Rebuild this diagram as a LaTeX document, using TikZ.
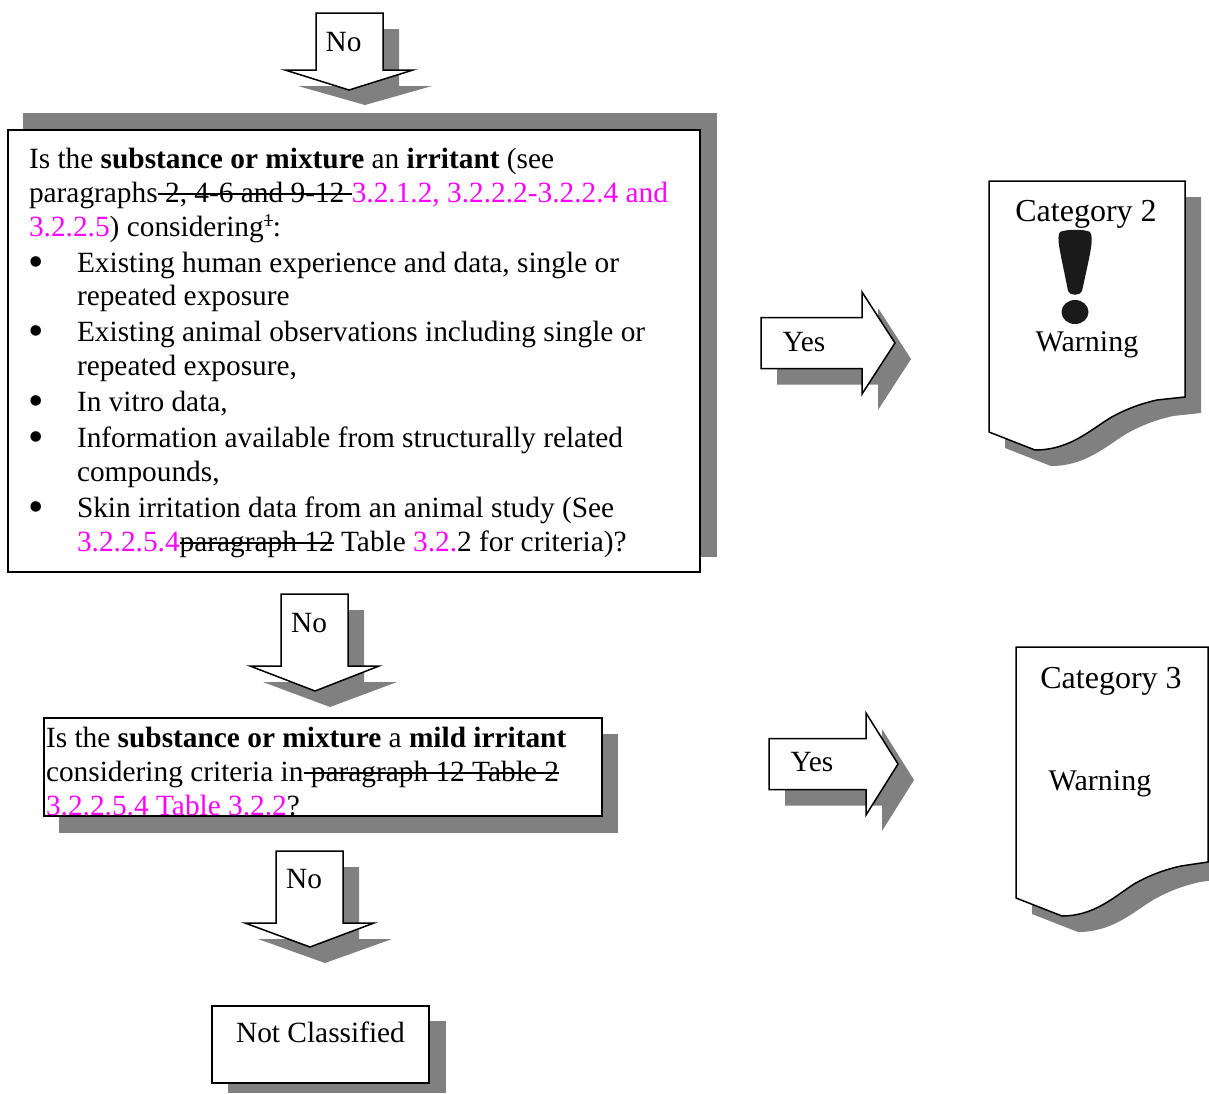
\documentclass[tikz,border=0pt]{standalone}
\usepackage{fontspec}
\setmainfont{Liberation Serif}
\definecolor{shadowgrey}{HTML}{808080}
\definecolor{ins}{HTML}{FF00FF}
\definecolor{excl}{HTML}{1A1A1A}
\newsavebox{\stkbox}
\newcommand{\stk}[1]{\sbox{\stkbox}{#1}\leavevmode\rlap{\rule[7.5pt]{\wd\stkbox}{1.5pt}}\usebox{\stkbox}}
\newcommand{\ins}[1]{\textcolor{ins}{#1}}
\newcommand{\bulletmark}{\fontsize{44}{44}\selectfont\smash{•}}
\tikzset{
  x=1pt,y=-1pt,
  txt/.style={inner sep=0pt,outer sep=0pt,anchor=base west,font=\fontsize{29.35}{34}\selectfont},
  ctr/.style={txt,anchor=base},
  cat/.style={ctr,font=\fontsize{32}{36}\selectfont},
  wrn/.style={ctr,font=\fontsize{30}{34}\selectfont},
  shp/.style={draw=black,line width=1.5pt,fill=white,line join=miter},
  shd/.style={fill=shadowgrey,draw=none}
}
\newcommand{\yesarr}[4]{%
  \begin{scope}[shift={(#1,#2)}]
    \fill[shadowgrey,shift={(16,16)}] (0,25.5) -- (#3,25.5) -- (#3,0) -- (#4,51) -- (#3,102) -- (#3,76.5) -- (0,76.5) -- cycle;
    \draw[shp] (0,25.5) -- (#3,25.5) -- (#3,0) -- (#4,51) -- (#3,102) -- (#3,76.5) -- (0,76.5) -- cycle;
  \end{scope}}
\newcommand{\docpath}{(0,0) -- (196,0) -- (196,216) -- (168,219) .. controls (150,223) and (135,229) .. (121,237) .. controls (100,250) and (80,269) .. (46,269) -- (0,251) -- cycle}
\begin{document}
\begin{tikzpicture}
\useasboundingbox (0,0) rectangle (1209,1093);
\clip (0,0) rectangle (1209,1093);
% top arrow
\fill[shadowgrey] (332,29) -- (399,29) -- (399,86) -- (432,86) -- (365,105) -- (298,86) -- (332,86) -- cycle;
\draw[shp] (316,13) -- (383,13) -- (383,70) -- (413,70) -- (349,90) -- (285,70) -- (316,70) -- cycle;
\node[ctr] (no1) at (343.5,51) {No};
% main box
\fill[shd] (23,113) rectangle (717,557);
\draw[shp] (8,130) rectangle (700,572);
\node[txt] (l1) at (29,168) {Is the \textbf{substance or mixture} an \textbf{irritant} (see};
\node[txt] (l2) at (29,202) {paragraphs\stk{ 2, 4-6 and 9-12 }\ins{3.2.1.2, 3.2.2.2-3.2.2.4 and}};
\node[txt] (l3) at (29,236) {\ins{3.2.2.5}) considering\raisebox{10pt}{\fontsize{18}{20}\selectfont\sbox{\stkbox}{1}\rlap{\rule[5pt]{\wd\stkbox}{0.7pt}}\usebox{\stkbox}}:};
\node[ctr] (b1) at (36,276.5) {\bulletmark};
\node[txt] (l4) at (77,272) {Existing human experience and data, single or};
\node[txt] (l5) at (77,305) {repeated exposure};
\node[ctr] (b2) at (36,345.5) {\bulletmark};
\node[txt] (l6) at (77,341) {Existing animal observations including single or};
\node[txt] (l7) at (77,375) {repeated exposure,};
\node[ctr] (b3) at (36,415.5) {\bulletmark};
\node[txt] (l8) at (77,411) {In vitro data,};
\node[ctr] (b4) at (36,451.5) {\bulletmark};
\node[txt] (l9) at (77,447) {Information available from structurally related};
\node[txt] (l10) at (77,481) {compounds,};
\node[ctr] (b5) at (36,521.5) {\bulletmark};
\node[txt] (l11) at (77,517) {Skin irritation data from an animal study (See};
\node[txt] (l12) at (77,551) {\ins{3.2.2.5.4}\stk{paragraph 12} Table \ins{3.2.}2 for criteria)?};
% second arrow
\fill[shadowgrey] (297,610) -- (364,610) -- (364,682) -- (397,682) -- (330,707) -- (263,682) -- (297,682) -- cycle;
\draw[shp] (281,594) -- (348,594) -- (348,666) -- (379,666) -- (315,691) -- (250,666) -- (281,666) -- cycle;
\node[ctr] (no2) at (309,632) {No};
% second box
\fill[shd] (59,734) rectangle (618,833);
\draw[shp] (44,718) rectangle (602,816);
\node[txt] (m1) at (46,747) {Is the \textbf{substance or mixture} a \textbf{mild irritant}};
\node[txt] (m2) at (46,781) {considering criteria in\stk{ paragraph 12 Table 2}};
\node[txt] (m3) at (46,815) {\ins{3.2.2.5.4 Table 3.2.2}?};
% third arrow
\fill[shadowgrey] (292,867) -- (359,867) -- (359,939) -- (392,939) -- (325,963) -- (258,939) -- (292,939) -- cycle;
\draw[shp] (276,851) -- (343,851) -- (343,923) -- (374,923) -- (310,947) -- (245,923) -- (276,923) -- cycle;
\node[ctr] (no3) at (304,888) {No};
% not classified
\fill[shd] (228,1021) rectangle (446,1093);
\draw[shp] (212,1006) rectangle (429,1083);
\node[ctr] (nc) at (320.5,1042) {Not Classified};
% yes arrows
\yesarr{761}{292}{101}{134}
\node[ctr] (y1) at (804,351) {Yes};
\yesarr{769}{713}{97}{129}
\node[ctr] (y2) at (812,771) {Yes};
% documents
\begin{scope}[shift={(1005,197)}] \fill[shadowgrey] \docpath; \end{scope}
\begin{scope}[shift={(989,181)}] \draw[shp] \docpath; \end{scope}
\node[cat] (c2) at (1086,221) {Category 2};
\fill[excl] (1060,232) .. controls (1066,229) and (1085,229) .. (1090,232) .. controls (1094,238) and (1091,250) .. (1082,291) .. controls (1080,296) and (1070,296) .. (1068,291) .. controls (1060,250) and (1056,238) .. (1060,232) -- cycle;
\fill[excl] (1075,312) ellipse [x radius=13.5,y radius=12];
\node[wrn] (w2) at (1087,351) {Warning};
\begin{scope}[shift={(1032,663)}] \fill[shadowgrey] (0,0) -- (196,0) -- (196,215) -- (168,219) .. controls (150,223) and (135,229) .. (121,237) .. controls (100,250) and (80,269) .. (46,269) -- (0,251) -- cycle; \end{scope}
\begin{scope}[shift={(1016,647)}] \draw[shp] (0,0) -- (192,0) -- (192,215) -- (165,219) .. controls (147,223) and (132,229) .. (118,237) .. controls (98,250) and (78,269) .. (46,269) -- (0,251) -- cycle; \end{scope}
\node[cat] (c3) at (1111,688) {Category 3};
\node[wrn] (w3) at (1100,790) {Warning};
\end{tikzpicture}
\end{document}
